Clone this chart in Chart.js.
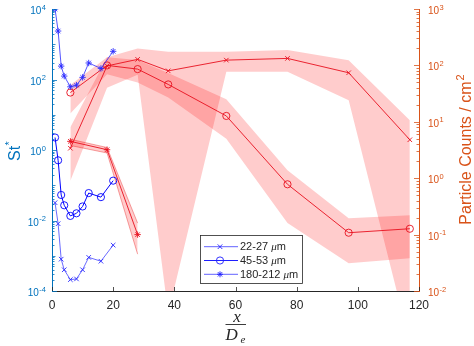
<!DOCTYPE html>
<html>
<head>
<meta charset="utf-8">
<script src="https://cdn.jsdelivr.net/npm/chart.js@4.4.1/dist/chart.umd.min.js"></script>
<style>
    html, body { margin: 0; padding: 0; background: #fff; }
</style>
</head>
<body>
<canvas id="grafico" width="474" height="346"></canvas>
<script>
// St* (eje izquierdo) cerca de la entrada
const xSt = [1, 2, 3, 4, 6, 8, 10, 12, 16, 20];
const st22 = [0.032, 0.0081, 0.0008, 0.0004, 0.00021, 0.00022, 0.0004, 0.0009, 0.0007, 0.002];
const st45 = [2.26, 0.51, 0.053, 0.027, 0.0135, 0.016, 0.025, 0.06, 0.046, 0.135];
const st180 = [10000, 2370, 240, 125, 62, 69, 115, 294, 206, 630];

// conteo de particulas (eje derecho) con su banda
const xCount = [6, 18, 28, 38, 57, 77, 97, 117];
const count22 = [3.4, 98, 128, 80, 124, 133, 74, 4.8];
const count22Hi = [8, 140, 200, 174, 174, 188, 124, 10.7];
const count22Lo = [0.9, 40, 68, 0.004, 77, 77, 24, 0.0012];
const count45 = [33, 100, 86, 46, 12.7, 0.78, 0.108, 0.127];
const count45Hi = [45, 140, 125, 73, 25, 1.38, 0.195, 0.22];
const count45Lo = [14, 70, 50, 27, 5, 0.16, 0.031, 0.038];
const xCount180 = [6, 18, 28];
const count180 = [4.5, 3.2, 0.1];
const count180Hi = [4.9, 3.5, 0.16];
const count180Lo = [3.8, 2.8, 0.045];

const xTicks = [0, 20, 40, 60, 80, 100, 120];
const leftTicks = [-4, -2, 0, 2, 4];
const rightTicks = [-2, -1, 0, 1, 2, 3];
const sizeLabels = ['22-27', '45-53', '180-212'];

const azul = '#0072BD';
const naranja = '#D95319';
const rojo = '#E8101E';
const rosa = 'rgba(255, 0, 0, 0.2)';
const fuente = '"Liberation Sans", Arial, sans-serif';

const pts = (xs, ys) => xs.map((x, i) => ({ x: x, y: ys[i] }));

function linea(data, color, estilo, ancho, eje) {
    return {
        data: data,
        yAxisID: eje,
        borderColor: color,
        borderWidth: ancho,
        pointStyle: estilo,
        pointRadius: estilo === 'circle' ? 3.6 : 3.2,
        pointBorderColor: color,
        pointBorderWidth: 0.9,
        pointBackgroundColor: 'rgba(0,0,0,0)',
        fill: false,
        tension: 0
    };
}

function banda(data, fill, borde) {
    return {
        data: data,
        yAxisID: 'y2',
        borderColor: borde || 'rgba(0,0,0,0)',
        borderWidth: borde ? 0.7 : 0,
        pointRadius: 0,
        backgroundColor: rosa,
        fill: fill,
        tension: 0
    };
}

// marcadores del cuadro de leyenda
function marcador(ctx, tipo, x, y) {
    ctx.beginPath();
    if (tipo === 'crossRot') {
        ctx.moveTo(x - 2.3, y - 2.3); ctx.lineTo(x + 2.3, y + 2.3);
        ctx.moveTo(x + 2.3, y - 2.3); ctx.lineTo(x - 2.3, y + 2.3);
    } else if (tipo === 'circle') {
        ctx.arc(x, y, 3.6, 0, Math.PI * 2);
    } else {
        ctx.moveTo(x - 3, y); ctx.lineTo(x + 3, y);
        ctx.moveTo(x, y - 3); ctx.lineTo(x, y + 3);
        ctx.moveTo(x - 2.2, y - 2.2); ctx.lineTo(x + 2.2, y + 2.2);
        ctx.moveTo(x + 2.2, y - 2.2); ctx.lineTo(x - 2.2, y + 2.2);
    }
    ctx.stroke();
}

function potencia(ctx, exp, x, y, derecha) {
    const base = '10', sup = String(exp);
    ctx.font = '10px ' + fuente;
    const wb = ctx.measureText(base).width;
    ctx.font = '7.5px ' + fuente;
    const ws = ctx.measureText(sup).width;
    const x0 = derecha ? x : x - wb - ws - 0.5;
    ctx.textAlign = 'left';
    ctx.textBaseline = 'alphabetic';
    ctx.font = '10px ' + fuente;
    ctx.fillText(base, x0, y + 5);
    ctx.font = '7.5px ' + fuente;
    ctx.fillText(sup, x0 + wb + 0.5, y + 0.5);
}

const decorar = {
    id: 'decorar',
    afterDraw(chart) {
        const ctx = chart.ctx;
        const area = chart.chartArea;
        const sx = chart.scales.x, sy = chart.scales.y, sy2 = chart.scales.y2;
        ctx.save();
        ctx.lineWidth = 0.8;

        // marcas hacia dentro, eje izquierdo
        ctx.strokeStyle = azul;
        for (let e = -4; e <= 4; e++) {
            for (let m = 1; m < 10; m++) {
                const v = m * Math.pow(10, e);
                if (v > 1e4 * 1.0001) break;
                const py = Math.round(sy.getPixelForValue(v)) + 0.5;
                const largo = m === 1 ? (e % 2 === 0 ? 5 : 3.5) : 2.5;
                ctx.beginPath();
                ctx.moveTo(area.left, py);
                ctx.lineTo(area.left + largo, py);
                ctx.stroke();
            }
        }
        // eje derecho
        ctx.strokeStyle = naranja;
        for (let e = -2; e <= 3; e++) {
            for (let m = 1; m < 10; m++) {
                const v = m * Math.pow(10, e);
                if (v > 1e3 * 1.0001) break;
                const py = Math.round(sy2.getPixelForValue(v)) + 0.5;
                const largo = m === 1 ? 5 : 2.5;
                ctx.beginPath();
                ctx.moveTo(area.right, py);
                ctx.lineTo(area.right - largo, py);
                ctx.stroke();
            }
        }
        // eje x
        ctx.strokeStyle = '#262626';
        xTicks.forEach(v => {
            const px = Math.round(sx.getPixelForValue(v)) + 0.5;
            ctx.beginPath();
            ctx.moveTo(px, area.bottom);
            ctx.lineTo(px, area.bottom - 4);
            ctx.stroke();
        });

        // etiquetas 10^n
        ctx.fillStyle = azul;
        leftTicks.forEach(e => potencia(ctx, e, 46, sy.getPixelForValue(Math.pow(10, e)), false));
        ctx.fillStyle = naranja;
        rightTicks.forEach(e => potencia(ctx, e, 428, sy2.getPixelForValue(Math.pow(10, e)), true));

        // titulo eje izquierdo: St*
        ctx.save();
        ctx.translate(0, 150);
        ctx.rotate(-Math.PI / 2);
        ctx.fillStyle = azul;
        ctx.textAlign = 'left';
        ctx.textBaseline = 'alphabetic';
        ctx.font = '16px ' + fuente;
        const wSt = ctx.measureText('St').width;
        ctx.fillText('St', -11, 20);
        ctx.font = '11px ' + fuente;
        ctx.fillText('*', -11 + wSt + 0.5, 13);
        ctx.restore();

        // titulo eje derecho
        ctx.save();
        ctx.translate(0, 150);
        ctx.rotate(-Math.PI / 2);
        ctx.fillStyle = naranja;
        ctx.textAlign = 'left';
        ctx.textBaseline = 'alphabetic';
        ctx.font = '16px ' + fuente;
        const tit = 'Particle Counts / cm';
        const wt = ctx.measureText(tit).width;
        ctx.font = '11px ' + fuente;
        const w2 = ctx.measureText('2').width;
        const x0 = -(wt + w2) / 2;
        ctx.font = '16px ' + fuente;
        ctx.fillText(tit, x0, 471);
        ctx.font = '11px ' + fuente;
        ctx.fillText('2', x0 + wt + 1, 464);
        ctx.restore();

        // titulo eje x: x / D_e
        const cx = (area.left + area.right) / 2;
        ctx.fillStyle = '#262626';
        ctx.strokeStyle = '#262626';
        ctx.textBaseline = 'alphabetic';
        ctx.textAlign = 'center';
        ctx.font = 'italic 17px "Liberation Serif", "DejaVu Serif", serif';
        ctx.fillText('x', cx + 1.5, 321.5);
        ctx.lineWidth = 0.9;
        ctx.beginPath();
        ctx.moveTo(cx - 10, 324.5);
        ctx.lineTo(cx + 10.5, 324.5);
        ctx.stroke();
        ctx.textAlign = 'left';
        ctx.fillText('D', cx - 10, 339.5);
        ctx.font = 'italic 11px "Liberation Serif", "DejaVu Serif", serif';
        ctx.fillText('e', cx + 5, 343);

        // leyenda
        const lx = 200, ly = 235, lw = 102, lh = 48;
        ctx.fillStyle = '#ffffff';
        ctx.fillRect(lx, ly, lw, lh);
        ctx.strokeStyle = '#262626';
        ctx.lineWidth = 0.8;
        ctx.strokeRect(lx + 0.5, ly + 0.5, lw, lh);
        const estilos = ['crossRot', 'circle', 'star'];
        const anchos = [0.7, 1.1, 0.7];
        sizeLabels.forEach((t, i) => {
            const yy = ly + 11.7 + i * 13.8;
            ctx.strokeStyle = '#1f1fff';
            ctx.lineWidth = anchos[i];
            ctx.beginPath();
            ctx.moveTo(204, yy);
            ctx.lineTo(238, yy);
            ctx.stroke();
            ctx.lineWidth = 0.9;
            marcador(ctx, estilos[i], 220, yy);
            ctx.fillStyle = '#262626';
            ctx.textBaseline = 'middle';
            ctx.font = '11px ' + fuente;
            ctx.fillText(t + ' ', 240, yy + 0.5);
            let w = ctx.measureText(t + ' ').width;
            ctx.font = 'italic 11px "Liberation Serif", serif';
            ctx.fillText('\u03bc', 240 + w, yy + 0.5);
            w += ctx.measureText('\u03bc').width;
            ctx.font = '11px ' + fuente;
            ctx.fillText('m', 240 + w, yy + 0.5);
        });
        ctx.restore();
    }
};

let G1 = new Chart(document.getElementById('grafico').getContext('2d'), {
    type: 'line',
    data: {
        datasets: [
            linea(pts(xSt, st22), '#2a2aff', 'crossRot', 0.7, 'y'),
            linea(pts(xSt, st45), '#0000ff', 'circle', 1.0, 'y'),
            linea(pts(xSt, st180), '#2a2aff', 'star', 0.8, 'y'),
            linea(pts(xCount, count22), rojo, 'crossRot', 0.9, 'y2'),
            linea(pts(xCount, count45), rojo, 'circle', 0.9, 'y2'),
            linea(pts(xCount180, count180), rojo, 'star', 0.9, 'y2'),
            banda(pts(xCount, count22Hi), '+1'),
            banda(pts(xCount, count22Lo), false),
            banda(pts(xCount, count45Hi), '+1'),
            banda(pts(xCount, count45Lo), false),
            banda(pts(xCount180, count180Hi), '+1', 'rgba(230,40,40,0.6)'),
            banda(pts(xCount180, count180Lo), false, 'rgba(230,40,40,0.6)')
        ]
    },
    options: {
        responsive: false,
        animation: false,
        events: [],
        layout: { padding: { top: 9, left: 0, right: 0, bottom: 0 } },
        plugins: { legend: { display: false }, tooltip: { enabled: false } },
        scales: {
            x: {
                type: 'linear',
                min: 0,
                max: 120,
                afterBuildTicks: s => { s.ticks = xTicks.map(v => ({ value: v })); },
                ticks: { color: '#262626', font: { size: 12, family: fuente }, padding: 7, maxRotation: 0 },
                grid: { drawOnChartArea: false, drawTicks: false },
                border: { color: '#262626', width: 1 },
                afterFit: s => { s.height = 55; }
            },
            y: {
                type: 'logarithmic',
                position: 'left',
                min: 1e-4,
                max: 1e4,
                ticks: { display: false },
                grid: { drawOnChartArea: false, drawTicks: false },
                border: { color: azul, width: 1 },
                afterFit: s => { s.width = 52; }
            },
            y2: {
                type: 'logarithmic',
                position: 'right',
                min: 1e-2,
                max: 1e3,
                ticks: { display: false },
                grid: { drawOnChartArea: false, drawTicks: false },
                border: { color: naranja, width: 1 },
                afterFit: s => { s.width = 55; }
            }
        }
    },
    plugins: [decorar]
});
</script>
</body>
</html>
